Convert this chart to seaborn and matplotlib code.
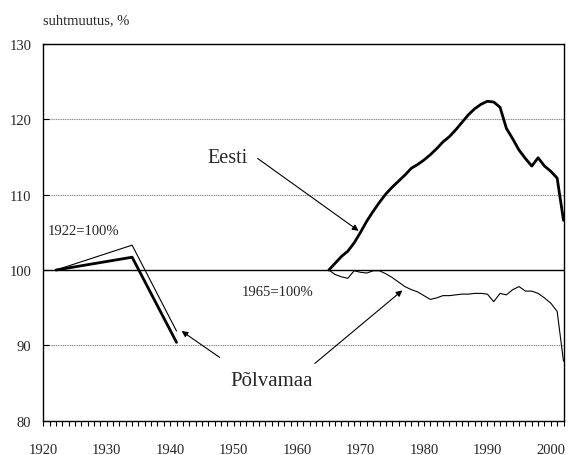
import matplotlib
matplotlib.use("Agg")
import matplotlib.pyplot as plt
import seaborn as sns
import pandas as pd
import numpy as np
from matplotlib.ticker import MultipleLocator

# ---- data ----
early_years = [1922, 1934, 1941]
early_eesti = [100.0, 101.7, 90.4]
early_polva = [100.0, 103.3, 91.9]

late_years = list(range(1965, 2003))
late_eesti = [100.0, 100.9, 101.8, 102.5, 103.6, 105.0, 106.5, 107.8, 109.0, 110.1,
              111.0, 111.8, 112.6, 113.5, 114.0, 114.6, 115.3, 116.1, 117.0, 117.7,
              118.6, 119.6, 120.6, 121.4, 122.0, 122.4, 122.3, 121.6, 118.8, 117.4,
              115.9, 114.8, 113.8, 114.9, 113.8, 113.1, 112.2, 106.6]
late_polva = [100.0, 99.4, 99.1, 98.9, 99.9, 99.7, 99.6, 99.9, 99.9, 99.5,
              99.0, 98.4, 97.8, 97.4, 97.1, 96.6, 96.1, 96.3, 96.6, 96.6,
              96.7, 96.8, 96.8, 96.9, 96.9, 96.8, 95.8, 96.9, 96.7, 97.4,
              97.8, 97.2, 97.2, 96.9, 96.3, 95.6, 94.5, 87.9]

y_ticks = [80, 90, 100, 110, 120, 130]
x_ticks = [1920, 1930, 1940, 1950, 1960, 1970, 1980, 1990, 2000]

# ---- frame ----
frames = []
for name, yrs, vals in [("e1", early_years, early_eesti), ("p1", early_years, early_polva),
                        ("e2", late_years, late_eesti), ("p2", late_years, late_polva)]:
    frames.append(pd.DataFrame({"year": yrs, "value": vals, "series": name}))
df = pd.concat(frames, ignore_index=True)

sns.set_style("white")
plt.rcParams["font.family"] = ["Liberation Serif", "DejaVu Serif"]

W, H = 569, 456
fig = plt.figure(figsize=(W / 100, H / 100), dpi=100)
ax = fig.add_axes([43.3 / W, 1 - 421.7 / H, (563.5 - 43.3) / W, (421.7 - 45) / H])

widths = {"e1": 2.0, "e2": 2.0, "p1": 0.8, "p2": 0.8}
for s, lw in widths.items():
    sns.lineplot(data=df[df.series == s], x="year", y="value", color="black",
                 linewidth=lw, ax=ax, legend=False, sort=False)

ax.set_xlim(1920, 2002)
ax.set_ylim(80, 130)
ax.set_xticks(x_ticks)
ax.set_yticks(y_ticks)
ax.xaxis.set_minor_locator(MultipleLocator(1))
ax.set_xlabel("")
ax.set_ylabel("")

ax.tick_params(axis="x", which="both", direction="out", length=3.5, width=0.8,
               color="black", labelsize=10.5, pad=12.5, bottom=True)
ax.tick_params(axis="y", which="major", direction="in", length=4, width=0.8,
               color="black", labelsize=10.5, pad=8.5, left=True)

ax.grid(True, axis="y", color="#8a8a8a", linewidth=0.8, linestyle=(0, (1, 0.6)))
ax.grid(False, axis="x")
for val, gl in zip(y_ticks, ax.yaxis.get_gridlines()):
    if val == 100:
        gl.set_color("black")
        gl.set_linestyle("-")
        gl.set_linewidth(1.0)
ax.set_axisbelow(True)

for sp in ax.spines.values():
    sp.set_color("black")
    sp.set_linewidth(1.0)
    sp.set_visible(True)

# ---- texts ----
fig.text(43 / W, 1 - 21 / H, "suhtmuutus, %", ha="left", va="center", fontsize=10.5)
ax.text(1926.4, 105.3, "1922=100%", ha="center", va="center", fontsize=10.5)
ax.text(1957.0, 97.2, "1965=100%", ha="center", va="center", fontsize=10.5)
ax.text(1949.0, 114.9, "Eesti", ha="center", va="center", fontsize=14.5)
ax.text(1956.0, 85.4, "Põlvamaa", ha="center", va="center", fontsize=15)

arrow = dict(arrowstyle="-|>", color="black", lw=0.8, mutation_scale=9, shrinkA=0, shrinkB=0)
ax.annotate("", xy=(1969.7, 105.2), xytext=(1953.8, 114.8), arrowprops=arrow)
ax.annotate("", xy=(1976.6, 97.3), xytext=(1962.8, 87.6), arrowprops=arrow)
ax.annotate("", xy=(1941.8, 91.9), xytext=(1947.8, 88.4), arrowprops=arrow)

fig.savefig("out.png", dpi=100)
